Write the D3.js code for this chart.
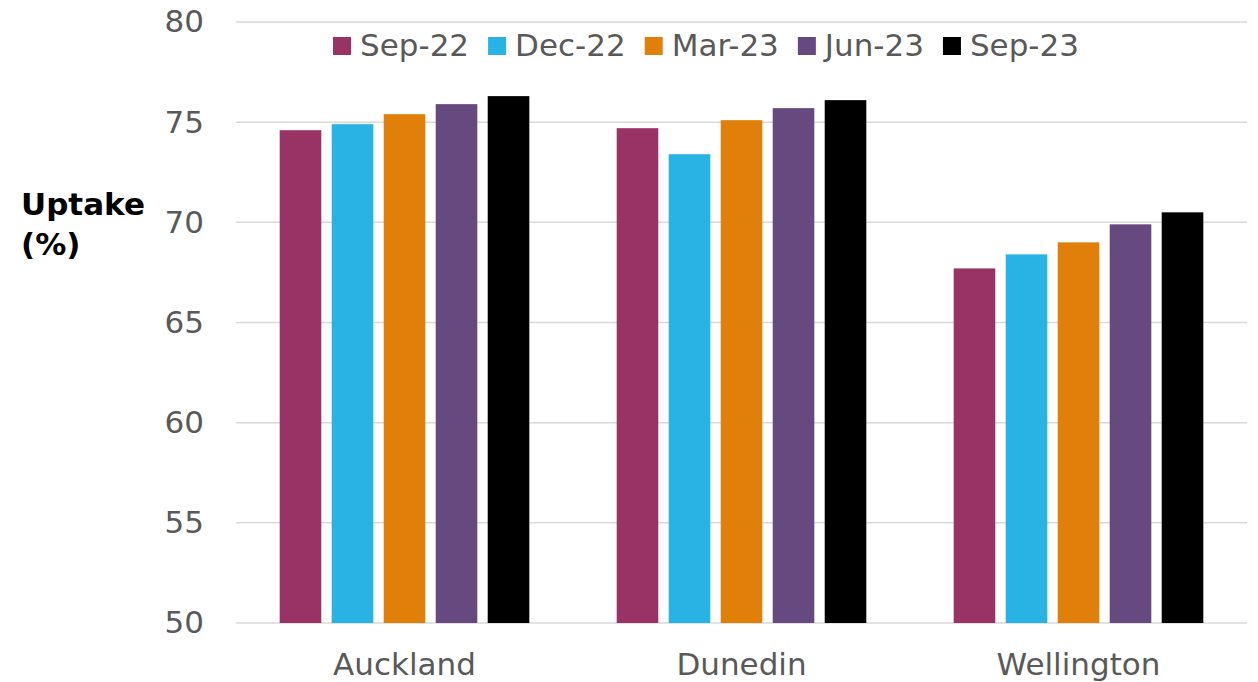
<!DOCTYPE html>
<html>
<head>
<meta charset="utf-8">
<script src="https://cdn.jsdelivr.net/npm/d3@7"></script>
<style>
  body { margin: 0; background: #fff; }
  svg { display: block; font-family: "DejaVu Sans", Verdana, sans-serif; }
</style>
</head>
<body>
<svg width="1258" height="682"></svg>
<script>
var cities = ["Auckland", "Dunedin", "Wellington"];
var periods = ["Sep-22", "Dec-22", "Mar-23", "Jun-23", "Sep-23"];
var colors = ["#993366", "#29b2e4", "#e0800a", "#65497f", "#000000"];
// uptake (%) per period, in city order
var sep22 = [74.6, 74.7, 67.7];
var dec22 = [74.9, 73.4, 68.4];
var mar23 = [75.4, 75.1, 69.0];
var jun23 = [75.9, 75.7, 69.9];
var sep23 = [76.3, 76.1, 70.5];
var yTicks = [50, 55, 60, 65, 70, 75, 80];

var series = [sep22, dec22, mar23, jun23, sep23];

var svg = d3.select("svg");
var plotLeft = 236, plotRight = 1247, plotTop = 22, plotBottom = 623;

var x0 = d3.scaleBand().domain(cities).range([plotLeft, plotRight]);
var x1 = d3.scaleBand().domain(periods).range([0, x0.bandwidth()])
  .paddingInner(0.2).paddingOuter(0.84);
var y = d3.scaleLinear().domain([50, 80]).range([plotBottom, plotTop]);
var color = d3.scaleOrdinal().domain(periods).range(colors);

// gridlines
svg.append("g").selectAll("line")
  .data(yTicks)
  .enter().append("line")
  .attr("x1", plotLeft).attr("x2", plotRight)
  .attr("y1", function(d) { return y(d); })
  .attr("y2", function(d) { return y(d); })
  .attr("stroke", "#d9d9d9")
  .attr("stroke-width", 1.5);

// y tick labels
var yAxis = svg.append("g")
  .attr("transform", "translate(" + (plotLeft - 32) + ",0)")
  .call(d3.axisLeft(y).tickValues(yTicks).tickSize(0).tickPadding(0));
yAxis.select(".domain").remove();
yAxis.selectAll("text")
  .attr("fill", "#595959")
  .style("font-size", "31px")
  .style("font-family", "DejaVu Sans, Verdana, sans-serif");

// x labels
var xAxis = svg.append("g")
  .attr("transform", "translate(0," + plotBottom + ")")
  .call(d3.axisBottom(x0).tickSize(0).tickPadding(30));
xAxis.select(".domain").remove();
xAxis.selectAll("text")
  .attr("fill", "#595959")
  .style("font-size", "31px")
  .style("font-family", "DejaVu Sans, Verdana, sans-serif");

// bars
var rows = [];
cities.forEach(function(c, i) {
  periods.forEach(function(p, j) {
    rows.push({ city: c, period: p, value: series[j][i] });
  });
});

svg.append("g").selectAll("rect")
  .data(rows)
  .enter().append("rect")
  .attr("x", function(d) { return x0(d.city) + x1(d.period); })
  .attr("width", x1.bandwidth())
  .attr("y", function(d) { return y(d.value); })
  .attr("height", function(d) { return y(50) - y(d.value); })
  .attr("fill", function(d) { return color(d.period); });

// y title
var title = svg.append("text")
  .attr("x", 21)
  .attr("font-weight", "bold")
  .attr("font-size", "31px")
  .attr("fill", "#000");
title.append("tspan").attr("x", 21).attr("y", 215).text("Uptake");
title.append("tspan").attr("x", 21).attr("y", 255).text("(%)");

// legend, laid out left to right then centred
var legend = svg.append("g");
var items = legend.selectAll("g")
  .data(periods)
  .enter().append("g");
items.append("rect")
  .attr("width", 18).attr("height", 18)
  .attr("y", -19)
  .attr("fill", function(d) { return color(d); });
items.append("text")
  .attr("x", 27)
  .attr("fill", "#595959")
  .attr("font-size", "31px")
  .text(function(d) { return d; });

var gap = 19;
var pos = 0;
items.each(function() {
  var g = d3.select(this);
  g.attr("transform", "translate(" + pos + ",0)");
  pos += 27 + g.select("text").node().getComputedTextLength() + gap;
});
var total = pos - gap;
legend.attr("transform", "translate(" + (706 - total / 2) + ",56)");
</script>
</body>
</html>
